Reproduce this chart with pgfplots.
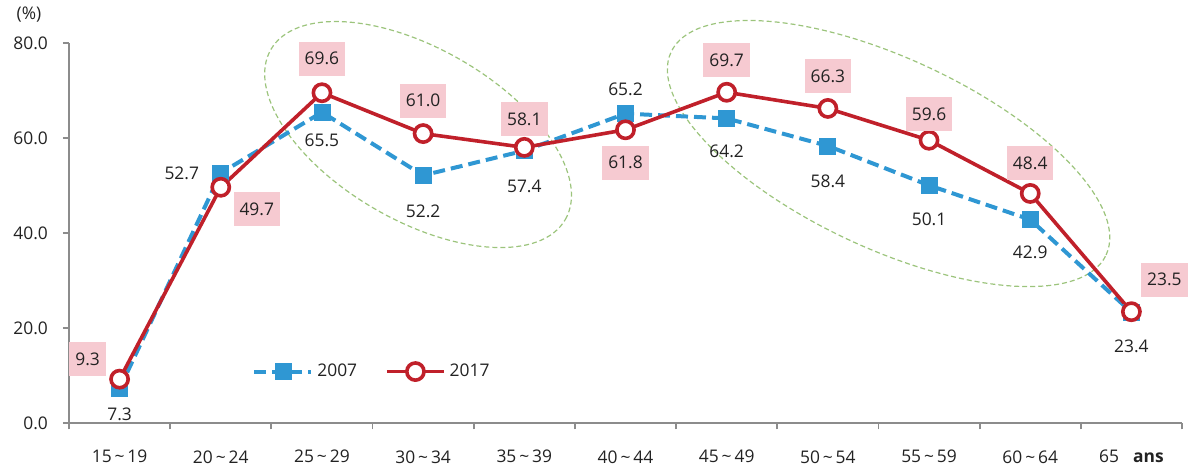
\documentclass[border=0pt]{standalone}
\usepackage{pgfplots}
\pgfplotsset{compat=1.18}
\usepackage{pgfplotstable}
\usepackage{fontspec}
\setmainfont{Open Sans}
\usetikzlibrary{shapes.geometric}

\definecolor{cblue}{HTML}{2F97D3}
\definecolor{cred}{HTML}{C0202A}
\definecolor{cpink}{HTML}{F6CAD1}
\definecolor{cgreen}{HTML}{9CC47C}
\definecolor{ctext}{HTML}{222222}
\definecolor{caxis}{HTML}{8C8C8C}

\newcommand{\tl}{\,\textasciitilde\,}

% x = band centre, dx/dy = label offset in pt
\pgfplotstableread{
x    y     dx     dy
0.5  7.3   0      -13
1.5  52.7  -19.5  0
2.5  65.5  0      -14
3.5  52.2  0      -18
4.5  57.4  0      -18
5.5  65.2  0      12
6.5  64.2  0      -16.5
7.5  58.4  0      -17.5
8.5  50.1  0      -17
9.5  42.9  0      -16.5
10.5 23.4  0      -17
}\dataA

\pgfplotstableread{
x    y     dx     dy
0.5  9.3   -16    10
1.5  49.7  18     -11
2.5  69.6  0      17
3.5  61.0  0      16.5
4.5  58.1  0      14
5.5  61.8  0      -16.5
6.5  69.7  0      16
7.5  66.3  0      16
8.5  59.6  0      13
9.5  48.4  0      15
10.5 23.5  16.5   16
}\dataB

\begin{document}
\begin{tikzpicture}[font=\fontsize{8.7}{10}\selectfont, text=ctext]
\begin{axis}[
    scale only axis,
    width=556.5pt, height=190pt,
    xmin=0, xmax=11,
    ymin=0, ymax=80,
    axis lines=left,
    axis line style={-, caxis, line width=0.9pt},
    clip=false,
    xtick={0.5,1.5,...,10.5},
    xticklabels={15\tl19, 20\tl24, 25\tl29, 30\tl34, 35\tl39, 40\tl44, 45\tl49, 50\tl54, 55\tl59, 60\tl64, 65\hspace{7pt}\textbf{ans}},
    major x tick style={draw=none},
    minor xtick={0,1,...,11},
    minor tick length=3pt,
    minor x tick style={caxis, line width=0.9pt},
    xticklabel style={yshift=-7pt, text=ctext},
    ytick={0,20,40,60,80},
    major y tick style={caxis, line width=0.9pt},
    major tick length=3pt,
    tick align=outside,
    yticklabel style={/pgf/number format/.cd, fixed, fixed zerofill, precision=1, /tikz/.cd, text=ctext, xshift=-4pt},
    /pgf/number format/assume math mode=true,
    legend style={at={(axis cs:1.75,10.9)}, anchor=west, draw=none, fill=none,
        legend columns=2, /tikz/every even column/.append style={column sep=12pt},
        font=\fontsize{8.7}{10}\selectfont},
    legend image code/.code={\draw[mark repeat=2, mark phase=2, #1] plot coordinates {(0cm,0cm) (0.5cm,0cm) (1cm,0cm)};},
    visualization depends on={\thisrow{dx} \as \dx},
    visualization depends on={\thisrow{dy} \as \dy},
    nodes near coords={\pgfmathprintnumber[fixed, fixed zerofill, precision=1]{\pgfplotspointmeta}},
]
% dashed green ellipses
\node[draw=cgreen, dashed, dash pattern=on 2.5pt off 1.5pt, line width=0.6pt, ellipse, rotate=-30,
      minimum width=170pt, minimum height=86pt, inner sep=0pt] at (axis cs:3.45,60.8) {};
\node[draw=cgreen, dashed, dash pattern=on 2.5pt off 1.5pt, line width=0.6pt, ellipse, rotate=-25,
      minimum width=240pt, minimum height=95pt, inner sep=0pt] at (axis cs:8.10,56.8) {};

\addplot[cblue, line width=2pt, dash pattern=on 6pt off 3pt, mark=square*,
    mark size=4pt, mark options={solid, fill=cblue, draw=cblue, line width=0.4pt},
    every node near coord/.append style={anchor=center, xshift=\dx pt, yshift=\dy pt, text=ctext}]
    table[x=x, y=y] {\dataA};
\addlegendentry{2007}

\addplot[cred, line width=1.8pt, mark=*, mark size=4.3pt,
    mark options={solid, fill=white, draw=cred, line width=1.8pt},
    every node near coord/.append style={anchor=center, xshift=\dx pt, yshift=\dy pt, text=ctext,
        fill=cpink, inner xsep=3pt, minimum height=17pt}]
    table[x=x, y=y] {\dataB};
\addlegendentry{2017}

\node[text=ctext] at (rel axis cs:0,1) [xshift=-20pt, yshift=14.5pt] {(\%)};
\path (rel axis cs:0,0) ++(-34.5pt,-25pt);
\path (rel axis cs:1,1) ++(4pt,20.5pt);
\end{axis}
\end{tikzpicture}
\end{document}
